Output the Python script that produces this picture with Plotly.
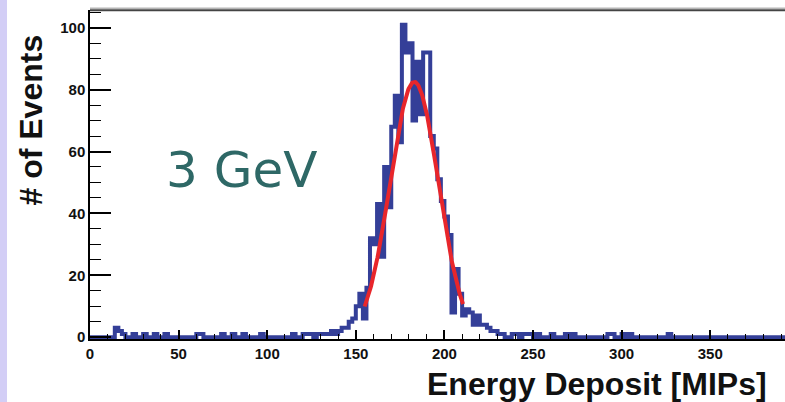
import numpy as np
import plotly.graph_objects as go

# ---------------- data ----------------
bin_start = 0.0
bin_width = 2.0
counts = [
    0, 0, 0, 0, 0, 0, 0, 3, 2, 1,      # 0-20
    0, 0, 1, 0, 0, 1, 0, 0, 1, 0,      # 20-40
    0, 1, 0, 0, 0, 0, 0, 0, 0, 0,      # 40-60
    1, 1, 0, 0, 0, 0, 0, 1, 0, 0,      # 60-80
    1, 0, 0, 1, 0, 0, 0, 0, 1, 0,      # 80-100
    0, 0, 0, 0, 0, 0, 0, 1, 0, 0,      # 100-120
    1, 1, 1, 0, 1, 1, 1, 1, 2, 1,      # 120-140
    2, 3, 3, 5, 6, 10, 14, 6, 16, 32,  # 140-160
    30, 43, 26, 55, 42, 68, 78, 63, 101, 92,   # 160-180
    95, 70, 89, 72, 92, 92, 65, 61, 51, 44,    # 180-200
    39, 33, 8, 22, 14, 7, 9, 8, 4, 7,          # 200-220
    4, 4, 3, 2, 2, 1, 1, 0, 0, 1,      # 220-240
    1, 0, 1, 1, 1, 0, 1, 0, 0, 0,      # 240-260
    1, 0, 0, 0, 1, 0, 1, 0, 0, 0,      # 260-280
    0, 0, 0, 0, 0, 0, 1, 1, 0, 0,      # 280-300
    1, 0, 1, 0, 0, 0, 0, 0, 0, 0,      # 300-320
    0, 0, 0, 1, 0, 0, 0, 0, 0, 0,      # 320-340
    0, 0, 0, 0, 0, 0, 0, 0, 0, 0,      # 340-360
    0, 0, 0, 0, 0, 0, 0, 0, 0, 0,      # 360-380
    0, 0, 0, 0, 0, 0, 0, 0, 0, 0,      # 380-400
]
# Gaussian fit parameters
fit_amplitude = 82.5
fit_mean = 183.0
fit_sigma = 13.6
fit_range = (155.0, 210.5)

x_ticks = [0, 50, 100, 150, 200, 250, 300, 350]
y_ticks = [0, 20, 40, 60, 80, 100]
label_text = "3 GeV"
x_title = "Energy Deposit [MIPs]"
y_title = "# of Events"

# ---------------- build ----------------
edges = bin_start + bin_width * np.arange(len(counts) + 1)
step_y = list(counts) + [counts[-1]]

fx = np.linspace(fit_range[0], fit_range[1], 200)
fy = fit_amplitude * np.exp(-0.5 * ((fx - fit_mean) / fit_sigma) ** 2)

W, H = 785, 402
ml, mr, mt, mb = 90, 0, 10, 63
pw, ph = W - ml - mr, H - mt - mb

fig = go.Figure()
fig.add_trace(go.Scatter(
    x=edges, y=step_y, mode="lines", line_shape="hv",
    line=dict(color="#343f98", width=4), hoverinfo="skip", showlegend=False))
fig.add_trace(go.Scatter(
    x=fx, y=fy, mode="lines",
    line=dict(color="#e8262b", width=4), hoverinfo="skip", showlegend=False))

font_family = "Liberation Sans, Arial, sans-serif"
fig.update_layout(
    width=W, height=H,
    margin=dict(l=ml, r=mr, t=mt, b=mb, pad=0),
    paper_bgcolor="white", plot_bgcolor="white",
    showlegend=False,
    xaxis=dict(
        range=[0, 392.2], tickmode="array", tickvals=x_ticks,
        ticktext=[str(v) for v in x_ticks],
        ticks="inside", ticklen=9, tickwidth=1.5, tickcolor="black",
        minor=dict(dtick=10, tick0=0, ticks="inside", ticklen=5,
                   tickwidth=1.2, tickcolor="black", showgrid=False),
        showline=True, linecolor="black", linewidth=1.5,
        showgrid=False, zeroline=False,
        tickfont=dict(family=font_family, size=15, color="#111", weight="bold"),
    ),
    yaxis=dict(
        range=[-0.6, 105.73], tickmode="array", tickvals=y_ticks,
        ticktext=[str(v) for v in y_ticks],
        ticks="inside", ticklen=21, tickwidth=1.5, tickcolor="black",
        minor=dict(dtick=5, tick0=0, ticks="inside", ticklen=11,
                   tickwidth=1.2, tickcolor="black", showgrid=False),
        showline=True, linecolor="black", linewidth=1.5,
        showgrid=False, zeroline=False,
        tickfont=dict(family=font_family, size=15, color="#111", weight="bold"),
    ),
)

def px_x(p):
    return (p - ml) / pw

def px_y(p):
    return (H - mb - p) / ph

# lavender strip at left edge
fig.add_shape(type="rect", xref="paper", yref="paper",
              x0=px_x(0), x1=px_x(7), y0=px_y(H), y1=px_y(0),
              fillcolor="#d3cef6", line=dict(width=0), layer="below")
# top border (double line)
fig.add_shape(type="line", xref="paper", yref="paper",
              x0=0, x1=1, y0=px_y(8.3), y1=px_y(8.3),
              line=dict(color="#b5b5b5", width=1.5))
fig.add_shape(type="line", xref="paper", yref="paper",
              x0=0, x1=1, y0=px_y(10.3), y1=px_y(10.3),
              line=dict(color="#444444", width=2))

fig.add_annotation(text=y_title, xref="paper", yref="paper",
                   x=px_x(30.5), y=px_y(120), textangle=-90,
                   showarrow=False, xanchor="center", yanchor="middle",
                   font=dict(family=font_family, size=32, color="#111", weight="bold"))
fig.add_annotation(text=x_title, xref="paper", yref="paper",
                   x=px_x(769), y=px_y(384),
                   showarrow=False, xanchor="right", yanchor="middle",
                   font=dict(family=font_family, size=32, color="#111", weight="bold"))
fig.add_annotation(text=label_text, xref="paper", yref="paper",
                   x=px_x(241), y=px_y(170),
                   showarrow=False, xanchor="center", yanchor="middle",
                   font=dict(family="DejaVu Sans, Verdana, sans-serif", size=50,
                             color="#2e6866"))

fig.write_html(
    "out.html",
    config={"displayModeBar": False},
    post_script="document.body.style.margin='0px';document.body.style.overflow='hidden';",
)
